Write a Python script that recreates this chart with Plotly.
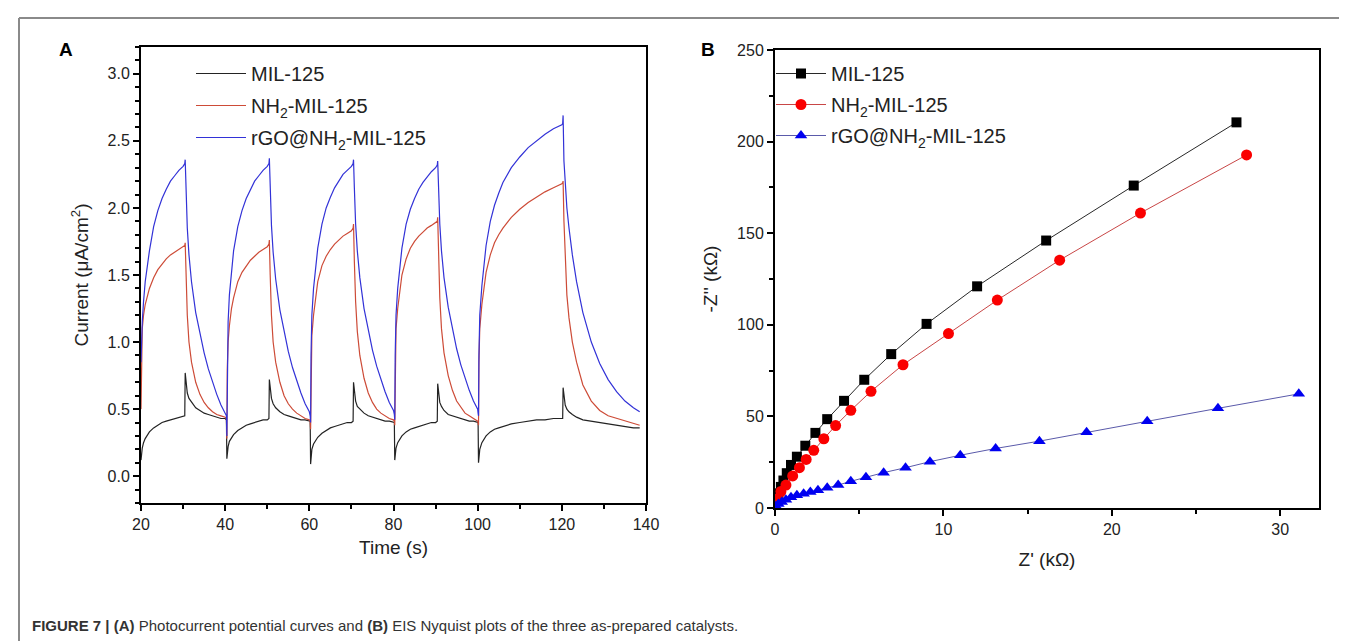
import plotly.graph_objects as go

W, H = 1347, 641


def fx(p):
    return p / W


def fy(p):
    return 1 - p / H


# ---------------- Panel A data: photocurrent vs time ----------------
time_s = [
    20.0, 20.1, 20.3, 20.6, 21, 22, 23, 24, 25, 26, 27, 28, 29, 30, 30.4,
    30.5,
    30.7, 31.0, 31.4, 32, 33, 34, 35, 36, 37, 38, 39, 40, 40.3,
    40.4, 40.5, 40.7, 41, 41.5, 42, 43, 44, 45, 46, 47, 48, 49, 50, 50.4,
    50.5,
    50.7, 51.0, 51.4, 52, 53, 54, 55, 56, 57, 58, 59, 60, 60.2,
    60.3, 60.4, 60.6, 61, 61.5, 62, 63, 64, 65, 66, 67, 68, 69, 70, 70.4,
    70.5,
    70.7, 71.0, 71.4, 72, 73, 74, 75, 76, 77, 78, 79, 80, 80.2,
    80.3, 80.4, 80.6, 81, 81.5, 82, 83, 84, 85, 86, 87, 88, 89, 90, 90.4,
    90.5,
    90.7, 91.0, 91.4, 92, 93, 94, 95, 96, 97, 98, 99, 100, 100.1,
    100.2, 100.3, 100.5, 101, 101.5, 102, 103, 104, 105, 106, 108, 110, 112, 114, 116, 118, 120, 120.2,
    120.3,
    120.5, 120.8, 121.2, 121.7, 122.5, 123.5, 125, 127, 129, 131, 133, 135, 137, 138.5,
]

current_rgo = [
    0.85, 1.0, 1.15, 1.3, 1.45, 1.68, 1.86, 1.98, 2.07, 2.14, 2.2, 2.24, 2.28, 2.31, 2.33,
    2.36,
    2.15, 1.85, 1.65, 1.45, 1.22, 1.06, 0.92, 0.8, 0.7, 0.61, 0.53, 0.47, 0.45,
    0.3, 0.85, 1.15, 1.35, 1.55, 1.68, 1.86, 1.98, 2.07, 2.14, 2.2, 2.24, 2.28, 2.31, 2.33,
    2.37,
    2.15, 1.87, 1.67, 1.47, 1.24, 1.07, 0.93, 0.81, 0.71, 0.62, 0.54, 0.48, 0.45,
    0.4, 0.9, 1.2, 1.4, 1.58, 1.7, 1.88, 2.0, 2.08, 2.15, 2.2, 2.25, 2.28, 2.31, 2.33,
    2.36,
    2.15, 1.88, 1.68, 1.48, 1.25, 1.08, 0.94, 0.82, 0.72, 0.63, 0.55, 0.49, 0.46,
    0.42, 0.9, 1.2, 1.4, 1.58, 1.7, 1.88, 1.99, 2.07, 2.14, 2.19, 2.23, 2.27, 2.3, 2.32,
    2.35,
    2.15, 1.88, 1.68, 1.48, 1.26, 1.09, 0.95, 0.83, 0.73, 0.64, 0.56, 0.5, 0.47,
    0.45, 0.9, 1.2, 1.42, 1.6, 1.72, 1.9, 2.02, 2.11, 2.19, 2.3, 2.38, 2.45, 2.5, 2.55, 2.59, 2.62, 2.63,
    2.69,
    2.35, 2.15, 2.0, 1.85, 1.65, 1.45, 1.22, 1.0, 0.84, 0.72, 0.63, 0.56, 0.51, 0.48,
]

current_nh2 = [
    0.5, 0.9, 1.1, 1.2, 1.28, 1.4, 1.48, 1.54, 1.58, 1.62, 1.65, 1.67, 1.69, 1.71, 1.72,
    1.74,
    1.5, 1.2, 1.0, 0.85, 0.7, 0.61, 0.55, 0.51, 0.48, 0.46, 0.45, 0.44, 0.43,
    0.28, 0.8, 1.0, 1.12, 1.25, 1.33, 1.45, 1.52, 1.57, 1.61, 1.64, 1.67, 1.69, 1.71, 1.73,
    1.76,
    1.5, 1.2, 1.0, 0.85, 0.7, 0.6, 0.54, 0.5, 0.47, 0.45, 0.43, 0.42, 0.41,
    0.35, 0.85, 1.05, 1.2, 1.35, 1.45, 1.57, 1.64, 1.69, 1.73, 1.76, 1.79, 1.81, 1.83, 1.85,
    1.88,
    1.6, 1.3, 1.08, 0.9, 0.73, 0.62, 0.55, 0.5, 0.47, 0.45, 0.43, 0.42, 0.41,
    0.38, 0.85, 1.1, 1.25, 1.4, 1.5, 1.62, 1.7, 1.75, 1.79, 1.82, 1.85, 1.87, 1.89, 1.9,
    1.93,
    1.65, 1.33, 1.1, 0.92, 0.75, 0.64, 0.56, 0.51, 0.47, 0.45, 0.43, 0.41, 0.4,
    0.38, 0.85, 1.1, 1.28, 1.42, 1.52, 1.65, 1.74, 1.8, 1.85, 1.93, 1.99, 2.04, 2.08, 2.12, 2.15, 2.18, 2.19,
    2.2,
    1.9, 1.6, 1.35, 1.18, 1.0, 0.85, 0.68, 0.56, 0.49, 0.45, 0.43, 0.41, 0.39, 0.38,
]

current_mil = [
    0.12, 0.17, 0.21, 0.25, 0.28, 0.33, 0.36, 0.38, 0.4, 0.41, 0.42, 0.43, 0.44, 0.45, 0.45,
    0.77,
    0.68, 0.62, 0.58, 0.55, 0.51, 0.49, 0.47, 0.46, 0.45, 0.44, 0.43, 0.43, 0.42,
    0.13, 0.18, 0.22, 0.26, 0.29, 0.31, 0.34, 0.36, 0.38, 0.39, 0.4, 0.41, 0.42, 0.42, 0.43,
    0.72,
    0.64, 0.58, 0.54, 0.51, 0.48, 0.46, 0.45, 0.44, 0.43, 0.42, 0.42, 0.41, 0.41,
    0.09, 0.15, 0.2, 0.24, 0.27, 0.29, 0.32, 0.34, 0.36, 0.37, 0.38, 0.39, 0.4, 0.4, 0.41,
    0.7,
    0.62, 0.56, 0.52, 0.5, 0.47, 0.45, 0.44, 0.43, 0.42, 0.41, 0.41, 0.4, 0.4,
    0.12, 0.17, 0.21, 0.25, 0.28, 0.3, 0.33, 0.35, 0.36, 0.37, 0.38, 0.39, 0.4, 0.4, 0.41,
    0.69,
    0.61, 0.55, 0.52, 0.49, 0.46, 0.45, 0.44, 0.43, 0.42, 0.41, 0.41, 0.4, 0.4,
    0.1, 0.16, 0.2, 0.25, 0.28, 0.3, 0.33, 0.35, 0.36, 0.37, 0.39, 0.4, 0.41, 0.42, 0.42, 0.43, 0.43, 0.43,
    0.66,
    0.58, 0.53, 0.5, 0.48, 0.46, 0.44, 0.42, 0.41, 0.4, 0.39, 0.38, 0.37, 0.36, 0.36,
]

# ---------------- Panel B data: Nyquist plots ----------------
zre_mil = [0.1, 0.2, 0.35, 0.5, 0.7, 0.95, 1.3, 1.8, 2.4, 3.1, 4.1, 5.3, 6.9, 9.0, 12.0, 16.1, 21.3, 27.4]
zim_mil = [5, 8, 11.5, 15, 19, 23.5, 28, 34, 41, 48.5, 58.5, 70, 84, 100.5, 121, 146, 176, 210.5]

zre_nh2 = [0.15, 0.35, 0.65, 1.05, 1.45, 1.85, 2.3, 2.9, 3.6, 4.5, 5.7, 7.6, 10.3, 13.2, 16.9, 21.7, 28.0]
zim_nh2 = [5, 9, 12.5, 17.5, 22, 26.5, 31.5, 37.8, 45, 53.3, 63.7, 78.2, 95.2, 113.5, 135.3, 161, 192.7]

zre_rgo = [0.05, 0.2, 0.4, 0.65, 0.95, 1.3, 1.7, 2.1, 2.55, 3.1, 3.75, 4.5, 5.4, 6.45, 7.75, 9.2, 11.0,
           13.1, 15.7, 18.5, 22.1, 26.3, 31.1]
zim_rgo = [1.0, 2.2, 3.3, 4.5, 5.8, 6.9, 7.8, 8.7, 9.7, 11.0, 12.5, 14.6, 16.8, 19.3, 22.0, 25.3, 28.8,
           32.5, 36.5, 41.3, 47.3, 54.4, 62.3]

names = ["MIL-125", "NH<sub>2</sub>-MIL-125", "rGO@NH<sub>2</sub>-MIL-125"]

FONT = "Liberation Sans, Arial, Helvetica, sans-serif"

fig = go.Figure()

# Panel A
fig.add_trace(go.Scatter(x=time_s, y=current_mil, mode="lines", name=names[0], legendgroup="a1",
                         line=dict(color="rgb(35,35,35)", width=1.2), xaxis="x", yaxis="y", legend="legend"))
fig.add_trace(go.Scatter(x=time_s, y=current_nh2, mode="lines", name=names[1], legendgroup="a2",
                         line=dict(color="rgb(205,75,55)", width=1.2), xaxis="x", yaxis="y", legend="legend"))
fig.add_trace(go.Scatter(x=time_s, y=current_rgo, mode="lines", name=names[2], legendgroup="a3",
                         line=dict(color="rgb(50,50,215)", width=1.2), xaxis="x", yaxis="y", legend="legend"))

# Panel B
fig.add_trace(go.Scatter(x=zre_mil, y=zim_mil, mode="lines+markers", name=names[0], legendgroup="b1",
                         line=dict(color="rgb(40,40,40)", width=1),
                         marker=dict(symbol="square", size=10, color="black"),
                         xaxis="x2", yaxis="y2", legend="legend2"))
fig.add_trace(go.Scatter(x=zre_nh2, y=zim_nh2, mode="lines+markers", name=names[1], legendgroup="b2",
                         line=dict(color="rgb(200,70,70)", width=1),
                         marker=dict(symbol="circle", size=11, color="rgb(250,0,0)"),
                         xaxis="x2", yaxis="y2", legend="legend2"))
fig.add_trace(go.Scatter(x=zre_rgo, y=zim_rgo, mode="lines+markers", name=names[2], legendgroup="b3",
                         line=dict(color="rgb(90,90,170)", width=1),
                         marker=dict(symbol="triangle-up", size=11, color="rgb(0,0,240)"),
                         xaxis="x2", yaxis="y2", legend="legend2"))

axis_common = dict(
    showline=True, linecolor="black", linewidth=2, mirror=True,
    ticks="outside", ticklen=6, tickwidth=1.5, tickcolor="black",
    showgrid=False, zeroline=False, automargin=False,
    tickfont=dict(family=FONT, size=16, color="#222"),
    title_font=dict(family=FONT, size=19, color="#222"),
)

fig.update_layout(
    width=W, height=H,
    margin=dict(l=0, r=0, t=0, b=0),
    paper_bgcolor="white", plot_bgcolor="white",
    font=dict(family=FONT, color="#222"),
    xaxis=dict(axis_common, domain=[fx(133), fx(638)], range=[20, 140], anchor="y",
               tickmode="linear", tick0=20, dtick=20,
               minor=dict(ticks="outside", ticklen=4, tickwidth=1.5, tickcolor="black", dtick=10, tick0=20),
               title=dict(text="Time (s)", standoff=8)),
    yaxis=dict(axis_common, domain=[fy(495), fy(39)], range=[-0.2, 3.2], anchor="x",
               tickmode="linear", tick0=0, dtick=0.5, tickformat=".1f",
               minor=dict(ticks="outside", ticklen=4, tickwidth=1.5, tickcolor="black", dtick=0.1, tick0=0),
               title=dict(text="Current (μA/cm<sup>2</sup>)", standoff=14)),
    xaxis2=dict(axis_common, domain=[fx(767), fx(1311)], range=[0, 32.3], anchor="y2",
                tickmode="linear", tick0=0, dtick=10,
                minor=dict(ticks="outside", ticklen=4, tickwidth=1.5, tickcolor="black", dtick=5, tick0=0),
                title=dict(text="Z' (kΩ)", standoff=15)),
    yaxis2=dict(axis_common, domain=[fy(500), fy(42)], range=[0, 250], anchor="x2",
                tickmode="linear", tick0=0, dtick=50,
                minor=dict(ticks="outside", ticklen=4, tickwidth=1.5, tickcolor="black", dtick=25, tick0=0),
                title=dict(text="-Z'' (kΩ)", standoff=14)),
    legend=dict(x=fx(183), y=fy(46), xanchor="left", yanchor="top", bgcolor="rgba(0,0,0,0)",
                itemwidth=50,
                font=dict(family=FONT, size=20, color="#222"), tracegroupgap=3),
    legend2=dict(x=fx(763), y=fy(46), xanchor="left", yanchor="top", bgcolor="rgba(0,0,0,0)",
                 itemwidth=50,
                 font=dict(family=FONT, size=20, color="#222"), tracegroupgap=2),
    shapes=[
        dict(type="line", xref="paper", yref="paper", x0=fx(11), x1=1, y0=fy(10), y1=fy(10),
             line=dict(color="#8a8a8a", width=2)),
        dict(type="line", xref="paper", yref="paper", x0=fx(11), x1=fx(11), y0=fy(10), y1=0,
             line=dict(color="#8a8a8a", width=2)),
    ],
    annotations=[
        dict(text="<b>A</b>", x=fx(58), y=fy(42), xref="paper", yref="paper", showarrow=False,
             xanchor="center", yanchor="middle", font=dict(family=FONT, size=19, color="black")),
        dict(text="<b>B</b>", x=fx(700), y=fy(42), xref="paper", yref="paper", showarrow=False,
             xanchor="center", yanchor="middle", font=dict(family=FONT, size=19, color="black")),
        dict(text="<b>FIGURE 7 | (A)</b> Photocurrent potential curves and <b>(B)</b> EIS Nyquist plots of the three as-prepared catalysts.",
             x=fx(22), y=fy(617), xref="paper", yref="paper", showarrow=False,
             xanchor="left", yanchor="middle",
             font=dict(family="Liberation Sans Narrow, Arial Narrow, Liberation Sans, Arial", size=15, color="#333")),
    ],
)

fig.write_html("out.html")
